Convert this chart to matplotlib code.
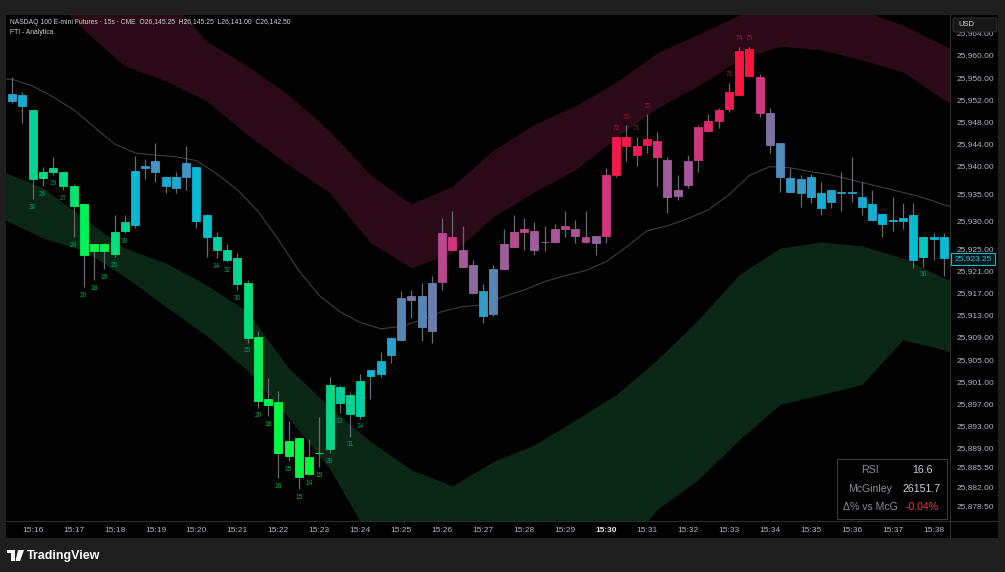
import matplotlib
matplotlib.use('Agg')
import matplotlib.pyplot as plt
from matplotlib.colors import LinearSegmentedColormap, to_rgb
from matplotlib.patches import Rectangle, FancyBboxPatch, Polygon

plt.rcParams['font.family'] = ['Liberation Sans', 'DejaVu Sans']

# 15-second bars, index 0 = 15:16:00
bar_idx = list(range(-2, 90))
opens = [25951.75, 25952.75, 25950.0, 25938.75, 25938.75, 25938.75, 25936.25, 25933.0, 25925.75, 25924.5,
         25924.0, 25928.25, 25929.25, 25939.5, 25940.75, 25938.0, 25936.0, 25938.0, 25939.75, 25931.0,
         25927.0, 25924.75, 25923.25, 25918.75, 25909.0, 25897.75, 25897.25, 25887.5, 25890.75, 25884.25,
         25888.0, 25888.75, 25900.0, 25898.5, 25894.75, 25902.0, 25902.25, 25905.75, 25908.5, 25915.75,
         25916.5, 25910.0, 25919.0, 25927.0, 25924.75, 25922.0, 25917.25, 25913.25, 25921.25, 25925.25,
         25928.0, 25928.25, 25926.25, 25926.25, 25928.5, 25928.5, 25927.0, 25926.0, 25927.25, 25938.25,
         25945.25, 25943.5, 25943.75, 25944.5, 25941.0, 25934.5, 25936.5, 25941.0, 25946.25, 25948.0,
         25950.25, 25952.75, 25956.25, 25956.0, 25949.5, 25944.0, 25937.75, 25935.0, 25938.0, 25935.0,
         25933.5, 25935.25, 25935.0, 25934.25, 25933.0, 25931.25, 25930.0, 25930.0, 25931.0, 25927.0,
         25926.75, 25927.0]
highs = [25956.0, 25953.25, 25950.0, 25939.75, 25941.5, 25938.75, 25936.75, 25933.25, 25925.75, 25926.0,
         25931.0, 25931.0, 25941.75, 25941.25, 25944.0, 25938.0, 25938.75, 25943.5, 25939.75, 25931.25,
         25928.0, 25925.75, 25924.25, 25919.25, 25910.0, 25901.5, 25899.25, 25893.75, 25890.75, 25890.5,
         25894.5, 25901.75, 25900.25, 25899.0, 25902.25, 25903.0, 25906.25, 25909.0, 25917.25, 25917.5,
         25918.75, 25920.0, 25930.5, 25931.75, 25929.0, 25923.0, 25918.5, 25922.0, 25928.5, 25931.0,
         25930.5, 25929.75, 25929.0, 25929.5, 25931.75, 25930.25, 25931.75, 25927.25, 25939.5, 25945.25,
         25947.25, 25945.25, 25949.25, 25946.0, 25941.5, 25938.25, 25942.0, 25947.25, 25949.25, 25950.5,
         25955.0, 25961.5, 25961.5, 25956.5, 25950.5, 25944.0, 25939.5, 25938.25, 25938.5, 25937.0,
         25935.5, 25938.75, 25941.5, 25937.0, 25935.5, 25931.5, 25934.25, 25933.25, 25933.25, 25927.0,
         25927.75, 25927.75]
lows = [25951.25, 25947.75, 25934.0, 25936.25, 25938.25, 25935.5, 25927.0, 25918.0, 25919.25, 25921.25,
        25923.5, 25927.75, 25928.75, 25937.5, 25937.0, 25935.0, 25935.0, 25935.5, 25928.75, 25923.5,
        25923.25, 25922.5, 25917.5, 25908.0, 25896.25, 25894.75, 25883.5, 25886.5, 25881.5, 25884.0,
        25885.5, 25888.0, 25895.25, 25891.0, 25894.25, 25897.75, 25901.75, 25904.25, 25908.5, 25912.5,
        25908.25, 25908.0, 25917.5, 25924.75, 25921.75, 25916.75, 25911.5, 25912.75, 25921.25, 25925.25,
        25924.75, 25923.75, 25924.5, 25926.0, 25927.0, 25926.0, 25926.0, 25923.75, 25926.0, 25938.0,
        25940.75, 25940.0, 25942.25, 25936.25, 25931.5, 25933.75, 25936.0, 25938.75, 25946.0, 25946.75,
        25949.75, 25952.75, 25956.25, 25948.75, 25942.25, 25935.25, 25935.25, 25932.5, 25933.25, 25931.0,
        25932.25, 25931.75, 25933.5, 25931.0, 25930.0, 25927.0, 25928.25, 25928.5, 25921.5, 25921.75,
        25923.0, 25920.0]
closes = [25953.0, 25950.75, 25937.5, 25937.75, 25939.5, 25936.25, 25932.75, 25923.75, 25924.5, 25925.75,
          25928.0, 25929.75, 25939.0, 25940.0, 25938.75, 25936.25, 25938.0, 25940.5, 25930.0, 25927.0,
          25924.75, 25923.0, 25918.5, 25908.75, 25897.5, 25896.75, 25888.0, 25890.25, 25883.75, 25887.25,
          25888.0, 25900.25, 25897.0, 25895.0, 25901.0, 25903.0, 25904.75, 25908.75, 25916.0, 25916.5,
          25910.75, 25918.75, 25927.75, 25924.75, 25921.75, 25917.0, 25912.75, 25921.25, 25925.75, 25928.0,
          25928.5, 25924.75, 25926.25, 25928.5, 25929.0, 25927.25, 25926.25, 25927.25, 25938.25, 25945.25,
          25943.5, 25942.0, 25944.75, 25941.5, 25934.25, 25935.5, 25940.75, 25947.0, 25948.0, 25950.0,
          25953.25, 25960.75, 25961.0, 25949.5, 25943.75, 25938.0, 25935.25, 25937.5, 25934.25, 25932.25,
          25935.5, 25935.0, 25935.25, 25932.5, 25930.25, 25929.5, 25930.25, 25930.5, 25923.0, 25923.5,
          25927.0, 25923.25]
rsi = [44, 42, 30, 26, 29, 27, 24, 20, 18, 19, 25, 30, 39, 44, 47, 42, 43, 47, 39, 37,
       34, 32, 30, 25, 20, 18, 16, 15, 15, 14, 19, 28, 33, 31, 34, 38, 40, 44, 50, 54,
       50, 52, 62, 66, 59, 55, 45, 50, 58, 61, 63, 58, 55, 59, 62, 60, 61, 56, 66, 72,
       73, 71, 72, 67, 58, 57, 59, 65, 68, 69, 71, 74, 75, 65, 54, 49, 45, 45, 44, 41,
       43, 43, 43, 42, 41, 39, 40, 40, 38, 36, 38, 38]

# McGinley dynamic (grey line)
mcg_idx = [-3, -2, 0, 2, 4, 6, 8, 10, 12, 14, 16, 18, 20, 22, 24, 26, 28, 30, 32, 34, 36, 38, 40, 42, 44,
           46, 48, 50, 52, 54, 56, 58, 60, 62, 64, 66, 68, 70, 72, 74, 76, 78, 80, 82, 84, 86, 88, 89, 90]
mcg = [25955.7, 25955.6, 25954.4, 25952.4, 25950.1, 25947.0, 25943.9, 25942.3, 25941.9, 25941.6, 25940.9,
       25938.5, 25935.6, 25931.8, 25926.6, 25921.0, 25916.5, 25913.6, 25911.6, 25910.5, 25910.9, 25912.1,
       25913.6, 25914.5, 25914.8, 25916.3, 25917.5, 25919.0, 25920.1, 25921.0, 25922.6, 25925.3, 25928.2,
       25929.1, 25930.4, 25932.0, 25934.7, 25938.2, 25939.8, 25939.6, 25938.9, 25938.3, 25937.4, 25936.5,
       25935.6, 25934.7, 25933.6, 25932.9, 25932.5]

# bands
band_idx = [-3, 1, 5, 9, 13, 17, 21, 25, 29, 33, 37, 41, 45, 49, 53, 57, 61, 65, 69, 73, 77, 81, 85, 89, 90]
red_hi = [25993.4, 25988.0, 25982.6, 25977.2, 25971.0, 25962.5, 25958.0, 25952.8, 25946.3, 25938.3, 25933.1,
          25936.3, 25942.8, 25947.5, 25950.8, 25955.1, 25960.4, 25963.8, 25967.2, 25969.9, 25969.9, 25968.1,
          25965.4, 25961.8, 25960.9]
red_lo = [25977.2, 25972.1, 25964.5, 25958.0, 25955.3, 25951.7, 25945.5, 25940.1, 25935.1, 25926.0, 25921.5,
          25924.2, 25930.7, 25935.2, 25939.2, 25945.0, 25950.4, 25954.4, 25959.1, 25961.6, 25960.9, 25959.1,
          25956.9, 25951.9, 25951.0]
grn_hi = [25939.0, 25936.0, 25930.5, 25925.1, 25922.4, 25918.4, 25913.6, 25903.4, 25896.4, 25890.1, 25885.0,
          25882.1, 25886.5, 25889.5, 25894.0, 25898.6, 25904.9, 25912.1, 25920.3, 25925.1, 25926.2, 25925.5,
          25923.3, 25919.7, 25919.0]
grn_lo = [25930.4, 25926.9, 25924.6, 25919.9, 25914.5, 25909.2, 25902.9, 25894.4, 25885.2, 25872.4, 25868.8,
          25868.8, 25868.8, 25868.8, 25868.8, 25868.8, 25877.8, 25883.2, 25890.4, 25896.8, 25898.6, 25900.4,
          25908.5, 25906.7, 25905.8]

time_ticks = list(range(0, 89, 4))
time_labels = ['15:%02d' % m for m in range(16, 39)]
price_ticks = [25964, 25960, 25956, 25952, 25948, 25944, 25940, 25935, 25930, 25925, 25921, 25917, 25913,
               25909, 25905, 25901, 25897, 25893, 25889, 25885.5, 25882, 25878.5]
last_price = 25923.25

header = ('NASDAQ 100 E-mini Futures \u00b7 15s \u00b7 CME  O26,145.25  H26,145.25  '
          'L26,141.00  C26,142.50')
table_rows = [('RSI', '16.6', '#d1d4dc'), ('McGinley', '26151.7', '#d1d4dc'),
              ('\u0394% vs McG', '-0.04%', '#f23645')]

# RSI colour gradient
cmap_stops = [(14, '#00ff3c'), (20, '#00f25a'), (26, '#00dc80'), (30, '#00d490'), (34, '#00cfa5'),
              (38, '#00bcd4'), (44, '#2aa0cc'), (48, '#4890c0'), (51, '#6080b0'), (55, '#8a6c9e'),
              (59, '#a8589a'), (63, '#c0428a'), (67, '#d8307a'), (71, '#f01a55'), (75, '#ff1438')]
lo_r, hi_r = cmap_stops[0][0], cmap_stops[-1][0]
cmap = LinearSegmentedColormap.from_list(
    'rsi', [((v - lo_r) / (hi_r - lo_r), c) for v, c in cmap_stops])
colors = [cmap((min(max(r, lo_r), hi_r) - lo_r) / (hi_r - lo_r)) for r in rsi]

W, H = 1005, 572
fig = plt.figure(figsize=(W / 100, H / 100), dpi=100, facecolor='#1e1e1e')


def fx(px):
    return px / W


def fy(py):
    return 1 - py / H


# black chart panel
fig.patches.append(Rectangle((fx(6), fy(538)), fx(992), 523 / H, transform=fig.transFigure,
                             facecolor='black', edgecolor='none', zorder=-1))

ax = fig.add_axes([fx(6), fy(521), fx(944), 506 / H])
ax.set_facecolor('black')
for s in ax.spines.values():
    s.set_visible(False)

ax.fill_between(band_idx, red_lo, red_hi, color='#2a0a16', lw=0, zorder=1)
ax.fill_between(band_idx, grn_lo, grn_hi, color='#0a2615', lw=0, zorder=1)
ax.plot(mcg_idx, mcg, color='#3e3e3e', lw=0.8, zorder=2)

ax.vlines(bar_idx, lows, highs, color='#666870', lw=0.9, zorder=3)
bottoms = [min(o, c) for o, c in zip(opens, closes)]
heights = [abs(c - o) for o, c in zip(opens, closes)]
ax.bar(bar_idx, heights, bottom=bottoms, width=0.78, color=colors, edgecolor=colors,
       linewidth=0.6, zorder=4)

# RSI labels
for i, r, lo, hi, c in zip(bar_idx, rsi, lows, highs, colors):
    dark = tuple(0.7 * v for v in to_rgb(c))
    if r <= 36:
        ax.annotate(str(r), (i, lo), xytext=(0, -3.5), textcoords='offset points', ha='center',
                    va='top', fontsize=4.8, color=dark, zorder=5)
    elif r >= 71:
        ax.annotate(str(r), (i, hi), xytext=(0, 3.5), textcoords='offset points', ha='center',
                    va='bottom', fontsize=4.8, color=dark, zorder=5)

ax.set_xlim(-2.6, 89.6)
ax.set_ylim(25875.73, 25967.23)

ax.yaxis.tick_right()
ax.set_yticks(price_ticks)
ax.set_yticklabels(['{:,.2f}'.format(v) for v in price_ticks])
ax.tick_params(axis='y', length=0, pad=5, labelsize=6, labelcolor='#b2b5be')
ax.set_xticks(time_ticks)
ax.set_xticklabels(time_labels)
ax.tick_params(axis='x', length=0, pad=4.5, labelsize=6, labelcolor='#b2b5be')
for lab in ax.get_xticklabels():
    if lab.get_text() == '15:30':
        lab.set_fontweight('bold')
        lab.set_color('#e8e8e8')

# separators
fig.add_artist(plt.Line2D([fx(950), fx(950)], [fy(15), fy(538)], color='#2c2c2c', lw=0.8))
fig.add_artist(plt.Line2D([fx(6), fx(998)], [fy(521), fy(521)], color='#2c2c2c', lw=0.8))

# USD box
fig.patches.append(FancyBboxPatch((fx(953), fy(32)), fx(44), 14 / H, boxstyle='round,pad=0,rounding_size=0.003',
                                  transform=fig.transFigure, facecolor='#161616', edgecolor='#2e2e2e',
                                  lw=0.8, zorder=5))
fig.text(fx(958), fy(25), 'USD', fontsize=5.5, color='#d1d4dc', va='center', zorder=6)

# last price label
fig.patches.append(Rectangle((fx(951), fy(265)), fx(44), 12 / H, transform=fig.transFigure,
                             facecolor='#04181c', edgecolor='#1fb5c9', lw=0.8, zorder=5))
fig.text(fx(973), fy(259), '{:,.2f}'.format(last_price), fontsize=6, color='#22c3d8',
         ha='center', va='center', zorder=6)

# header
fig.text(fx(10), fy(22), header, fontsize=4.9, color='#d1d4dc', va='center')
fig.text(fx(10), fy(32), 'FTI - Analytica', fontsize=4.9, color='#d1d4dc', va='center')

# stats table
fig.patches.append(Rectangle((fx(837), fy(519)), fx(110), 60 / H, transform=fig.transFigure,
                             facecolor='black', edgecolor='#3a3a3a', lw=0.8, zorder=5))
for k, (lab, val, vc) in enumerate(table_rows):
    yy = fy(470 + 18.5 * k)
    fig.text(fx(870), yy, lab, fontsize=7.6, color='#8a8d95', ha='center', va='center', zorder=6)
    fig.text(fx(922), yy, val, fontsize=7.6, color=vc, ha='center', va='center', zorder=6)

# TradingView footer
fig.patches.append(Polygon([(fx(7), fy(550)), (fx(15), fy(550)), (fx(15), fy(561)), (fx(11), fy(561)),
                            (fx(11), fy(553)), (fx(7), fy(553))], closed=True, transform=fig.transFigure,
                           facecolor='white', edgecolor='none'))
fig.patches.append(Polygon([(fx(18), fy(550)), (fx(24), fy(550)), (fx(20), fy(561)), (fx(15.5), fy(561))],
                           closed=True, transform=fig.transFigure, facecolor='white', edgecolor='none'))
fig.text(fx(27), fy(556), 'TradingView', fontsize=9, fontweight='bold', color='white', va='center')

fig.savefig('out.png', dpi=100, facecolor=fig.get_facecolor())
